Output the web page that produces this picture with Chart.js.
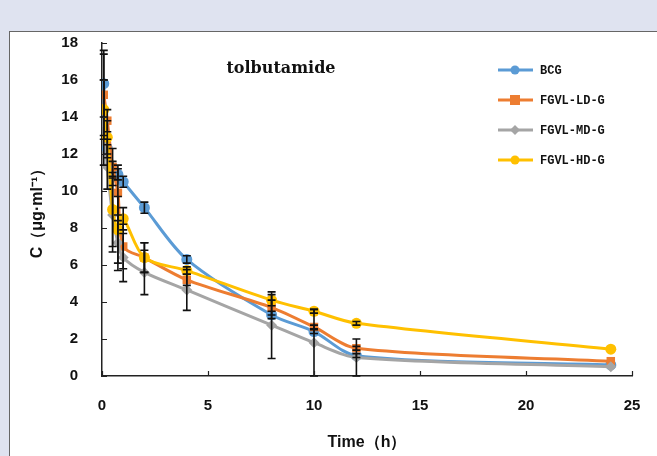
<!DOCTYPE html>
<html>
<head>
<meta charset="utf-8">
<script src="https://cdn.jsdelivr.net/npm/chart.js@4"></script>
<style>
  html, body { margin: 0; padding: 0; }
  body { width: 657px; height: 456px; background: #dfe3f0; position: relative; overflow: hidden; }
  #box { position: absolute; left: 9px; top: 31px; width: 660px; height: 440px; background: #fff; border: 1px solid #666; }
  #grafico { position: absolute; left: 0; top: 0; }
</style>
</head>
<body>
<div id="box"></div>
<canvas id="grafico" width="657" height="456"></canvas>
<script>
// dados
const tempos = [0.083, 0.25, 0.5, 0.75, 1, 2, 4, 8, 10, 12, 24];
const nomes = ["BCG", "FGVL-LD-G", "FGVL-MD-G", "FGVL-HD-G"];
const bcg = [15.8, 12.3, 11.2, 10.9, 10.5, 9.1, 6.3, 3.3, 2.4, 1.1, 0.6];
const ld  = [15.2, 13.8, 11.3, 9.9, 7.0, 6.4, 5.2, 3.7, 2.65, 1.5, 0.8];
const md  = [13.7, 11.3, 8.7, 7.2, 6.4, 5.6, 4.65, 2.75, 1.8, 1.0, 0.5];
const hd  = [14.4, 12.9, 9.0, 7.9, 8.5, 6.4, 5.7, 4.1, 3.5, 2.85, 1.45];
// desvios (barras de erro)
const bcgSd = [1.8, 0.5, 0.4, 0.3, 0.3, 0.3, 0.2, 0.2, 0.1, 0.1, 0];
const ldSd  = [2.2, 0.6, 1.0, 1.5, 1.2, 0.8, 0.3, 0.4, 0.1, 0.1, 0];
const mdSd  = [2.3, 1.2, 2.0, 1.5, 1.3, 1.2, 1.1, 1.8, 1.8, 1.0, 0];
const hdSd  = [1.6, 0.9, 2.0, 1.8, 0.6, 0.8, 0.2, 0.3, 0.1, 0.1, 0];
const yTicks = [0, 2, 4, 6, 8, 10, 12, 14, 16, 18];
const xTicks = [0, 5, 10, 15, 20, 25];

const cores = ["#5b9bd5", "#ed7d31", "#a5a5a5", "#ffc000"];
const marcadores = ["circle", "rect", "rectRot", "circle"];
const series = [bcg, ld, md, hd];
const desvios = [bcgSd, ldSd, mdSd, hdSd];

function pontos(vals) {
  return tempos.map((t, i) => ({ x: t, y: vals[i] }));
}

const datasets = series.map((vals, i) => ({
  label: nomes[i],
  data: pontos(vals),
  sd: desvios[i],
  borderColor: cores[i],
  backgroundColor: cores[i],
  borderWidth: 3,
  pointStyle: marcadores[i],
  pointRadius: marcadores[i] === "rect" ? 6 : 5.5,
  pointBorderWidth: 0,
  tension: 0.3,
  order: 3 - i
}));

// barras de erro
const barrasErro = {
  id: "barrasErro",
  afterDatasetsDraw(chart) {
    const ctx = chart.ctx;
    const y = chart.scales.y;
    ctx.save();
    ctx.strokeStyle = "#111";
    ctx.lineWidth = 1.6;
    chart.data.datasets.forEach((ds, di) => {
      const meta = chart.getDatasetMeta(di);
      meta.data.forEach((pt, i) => {
        if (!ds.sd[i]) return;
        const v = ds.data[i].y;
        const top = y.getPixelForValue(v + ds.sd[i]);
        const bot = y.getPixelForValue(Math.max(0, v - ds.sd[i]));
        ctx.beginPath();
        ctx.moveTo(pt.x, top); ctx.lineTo(pt.x, bot);
        ctx.moveTo(pt.x - 4, top); ctx.lineTo(pt.x + 4, top);
        ctx.moveTo(pt.x - 4, bot); ctx.lineTo(pt.x + 4, bot);
        ctx.stroke();
      });
    });
    ctx.restore();
  }
};

// ticks internos, título e legenda
const extras = {
  id: "extras",
  afterDraw(chart) {
    const ctx = chart.ctx;
    const xs = chart.scales.x, ys = chart.scales.y;
    const area = chart.chartArea;
    ctx.save();
    ctx.strokeStyle = "#222";
    ctx.lineWidth = 1.2;
    ctx.beginPath();
    yTicks.forEach(v => {
      const py = Math.round(ys.getPixelForValue(v)) + 0.5;
      ctx.moveTo(area.left, py); ctx.lineTo(area.left + 5, py);
    });
    xTicks.forEach(v => {
      const px = Math.round(xs.getPixelForValue(v)) + 0.5;
      ctx.moveTo(px, area.bottom); ctx.lineTo(px, area.bottom - 5);
    });
    ctx.stroke();

    // título
    ctx.fillStyle = "#111";
    ctx.font = "bold 16px 'DejaVu Serif'";
    ctx.textAlign = "center";
    ctx.textBaseline = "middle";
    ctx.fillText("tolbutamide", 281, 69);

    // legenda
    ctx.font = "bold 12px 'Liberation Mono'";
    ctx.textAlign = "left";
    chart.data.datasets.forEach((ds, i) => {
      const ly = 70 + i * 30;
      ctx.strokeStyle = cores[i];
      ctx.lineWidth = 3;
      ctx.beginPath();
      ctx.moveTo(498, ly); ctx.lineTo(533, ly);
      ctx.stroke();
      ctx.fillStyle = cores[i];
      const mx = 515;
      ctx.beginPath();
      if (marcadores[i] === "circle") {
        ctx.arc(mx, ly, 4.5, 0, Math.PI * 2);
      } else if (marcadores[i] === "rect") {
        ctx.rect(mx - 5, ly - 5, 10, 10);
      } else {
        ctx.moveTo(mx, ly - 5); ctx.lineTo(mx + 5, ly);
        ctx.lineTo(mx, ly + 5); ctx.lineTo(mx - 5, ly);
        ctx.closePath();
      }
      ctx.fill();
      ctx.fillStyle = "#111";
      ctx.fillText(ds.label, 540, ly + 1);
    });
    ctx.restore();
  }
};

new Chart(document.getElementById("grafico"), {
  type: "line",
  data: { datasets: datasets },
  options: {
    responsive: false,
    animation: false,
    layout: { padding: { left: 0, top: 43, right: 25, bottom: 0 } },
    plugins: {
      legend: { display: false },
      tooltip: { enabled: false }
    },
    scales: {
      x: {
        type: "linear",
        min: 0, max: 25,
        afterBuildTicks: s => { s.ticks = xTicks.map(v => ({ value: v })); },
        afterFit: s => { s.height = 80; },
        grid: { display: false },
        border: { color: "#222", width: 1.5 },
        ticks: { color: "#111", padding: 13, font: { family: "'Liberation Sans'", size: 15, weight: "bold" } },
        title: { display: true, text: "Time（h）", color: "#111", padding: { top: 6 }, font: { family: "'Liberation Sans'", size: 16, weight: "bold" } }
      },
      y: {
        min: 0, max: 18,
        afterBuildTicks: s => { s.ticks = yTicks.map(v => ({ value: v })); },
        afterFit: s => { s.width = 102; },
        grid: { display: false },
        border: { color: "#222", width: 1.5 },
        ticks: { color: "#111", padding: 16, font: { family: "'Liberation Sans'", size: 15, weight: "bold" } },
        title: { display: true, text: "C（μg·ml⁻¹）", color: "#111", padding: { top: 28, bottom: 0 }, font: { family: "'Liberation Sans'", size: 16, weight: "bold" } }
      }
    }
  },
  plugins: [barrasErro, extras]
});
</script>
</body>
</html>
